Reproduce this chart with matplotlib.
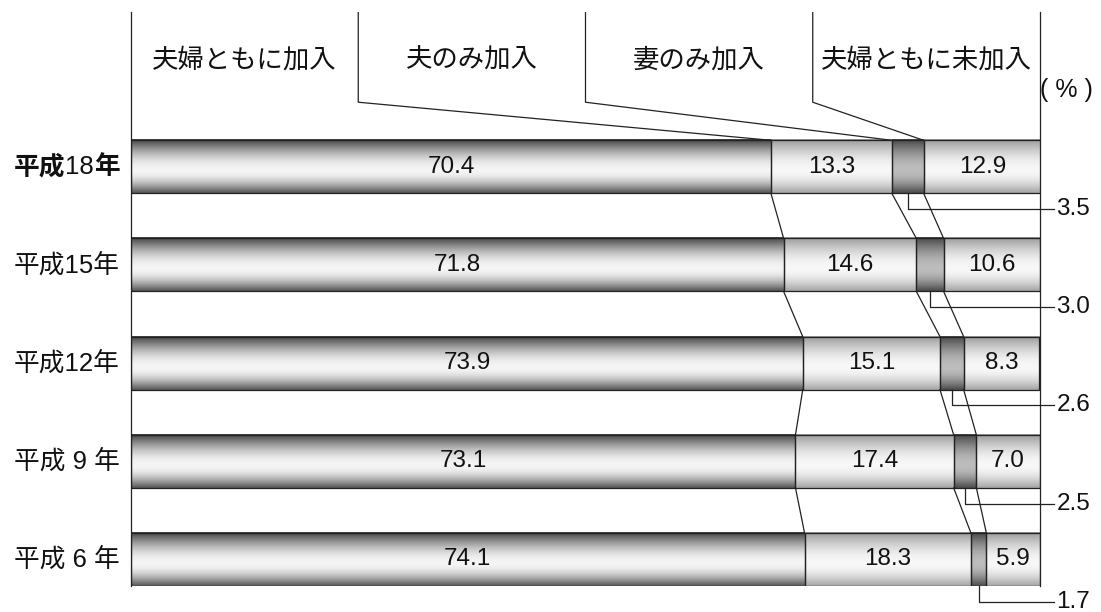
import numpy as np
import matplotlib
matplotlib.use("Agg")
import matplotlib.pyplot as plt

FAM = ["Liberation Sans", "Noto Sans CJK JP", "DejaVu Sans"]
plt.rcParams["font.family"] = FAM

# ---- data ----
years = ["平成18年", "平成15年", "平成12年", "平成 9 年", "平成 6 年"]
categories = ["夫婦ともに加入", "夫のみ加入", "妻のみ加入", "夫婦ともに未加入"]
both = [70.4, 71.8, 73.9, 73.1, 74.1]
husband_only = [13.3, 14.6, 15.1, 17.4, 18.3]
wife_only = [3.5, 3.0, 2.6, 2.5, 1.7]
neither = [12.9, 10.6, 8.3, 7.0, 5.9]
unit_label = "( % )"

series = [both, husband_only, wife_only, neither]

# ---- styles ----
H = 0.54
Y_TOP = -1.577
Y_BOT = 4 + H / 2
EDGE = "#222222"
shade_dark = (0.25, 0.96, 0.33)
shade_light = (0.60, 0.97, 0.64)
shade_small = (0.27, 0.74, 0.29)
shades = [shade_dark, shade_light, shade_small, shade_light]
NUM_FS = 17.5


def grad(shade, n=200):
    t = np.linspace(0, 1, n)
    a, b, c = shade
    peak = 0.58
    v = np.where(
        t < peak,
        a + (b - a) * np.sin(np.pi / 2 * t / peak),
        b + (c - b) * (1 - np.cos(np.pi / 2 * (t - peak) / (1 - peak))),
    )
    return np.repeat(v[:, None, None], 3, axis=2)


fig = plt.figure(figsize=(11.01, 6.12), dpi=100)
ax = fig.add_axes([131 / 1101, 1 - 586 / 612, 909 / 1101, 574 / 612])

ypos = np.arange(len(years))
left = np.zeros(len(years))
bounds = []
for k, (vals, shade) in enumerate(zip(series, shades)):
    vals = np.asarray(vals)
    bc = ax.barh(ypos, vals, left=left, height=H, fill=False,
                 edgecolor=EDGE, linewidth=0.9, zorder=3)
    g = grad(shade)
    for i, rect in enumerate(bc):
        x0, w, yb = rect.get_x(), rect.get_width(), rect.get_y()
        ax.imshow(g, extent=(x0, x0 + w, yb + H, yb), origin="upper",
                  aspect="auto", interpolation="bilinear", zorder=2)
        if k != 2:
            ax.text(x0 + w / 2, ypos[i], f"{vals[i]:.1f}", ha="center",
                    va="center", fontsize=NUM_FS, color="#111111", zorder=4)
        else:
            xm = x0 + w / 2
            yl = ypos[i] + 0.43
            ax.plot([xm, xm, 101.5], [ypos[i] + H / 2, yl, yl], color=EDGE,
                    lw=0.9, clip_on=False, zorder=4)
            ax.text(101.8, yl, f"{vals[i]:.1f}", ha="left", va="center",
                    fontsize=NUM_FS, color="#111111", clip_on=False)
    left = left + vals
    bounds.append(left.copy())

# connectors between bars
for k in range(3):
    for i in range(len(years) - 1):
        ax.plot([bounds[k][i], bounds[k][i + 1]],
                [ypos[i] + H / 2, ypos[i + 1] - H / 2],
                color=EDGE, lw=0.9, zorder=4)

# header dividers and labels
col_w = 100 / len(categories)
for k in range(3):
    xk = col_w * (k + 1)
    ax.plot([xk, xk, bounds[k][0]], [Y_TOP, -0.658, -H / 2],
            color=EDGE, lw=0.9, zorder=4)
for k, cat in enumerate(categories):
    ax.text(col_w * (k + 0.5), -1.09, cat, ha="center", va="center",
            fontsize=19, color="#111111")

ax.text(100.05, -0.78, unit_label, ha="left", va="center", fontsize=18,
        color="#111111", clip_on=False)

# year labels
YL_FS = 18.5
for i, lab in enumerate(years):
    if i == 0:
        t_nen = ax.text(-1.25, ypos[i], lab[-1], ha="right", va="center",
                        fontsize=YL_FS, fontweight="bold", color="#111111")
        t_num = ax.annotate(lab[2:-1], xy=(0, 0.5), xycoords=t_nen,
                            ha="right", va="center", fontsize=YL_FS,
                            color="#111111")
        ax.annotate(lab[:2], xy=(0, 0.5), xycoords=t_num, ha="right",
                    va="center", fontsize=YL_FS, fontweight="bold",
                    color="#111111")
    else:
        ax.text(-1.25, ypos[i], lab, ha="right", va="center", fontsize=YL_FS,
                color="#111111")

ax.set_xlim(0, 100)
ax.set_ylim(Y_BOT, Y_TOP)
for s in ["top", "bottom"]:
    ax.spines[s].set_visible(False)
for s in ["left", "right"]:
    ax.spines[s].set_color(EDGE)
    ax.spines[s].set_linewidth(0.9)
ax.set_xticks([])
ax.set_yticks([])

fig.savefig("out.png", dpi=100)
